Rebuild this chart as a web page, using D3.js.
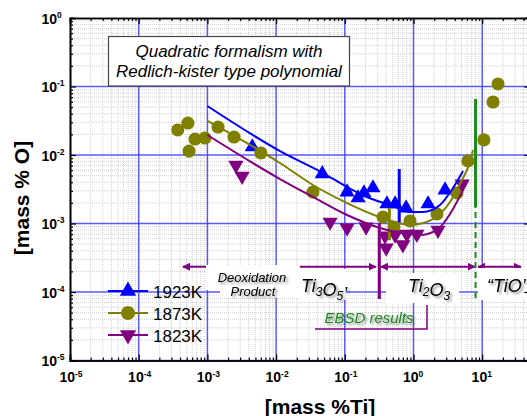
<!DOCTYPE html>
<html lang="en">
<head>
<meta charset="UTF-8">
<title>Ti deoxidation equilibrium</title>
<style>
  body { margin: 0; background: #fff; }
  svg text { font-family: Arial, "Liberation Sans", sans-serif; }
</style>
</head>
<body>
<svg id="chart" width="527" height="416"></svg>
<script src="https://cdn.jsdelivr.net/npm/d3@7"></script>
<script>
// decades shown on the axes (exponents)
const xDecades = [-5, -4, -3, -2, -1, 0, 1];
const yDecades = [-5, -4, -3, -2, -1, 0];

// measured points: [mass %Ti, mass %O]
const pts1923 = [
  [4.5e-3, 0.0131], [0.047, 5.3e-3], [0.108, 2.88e-3], [0.156, 2.36e-3],
  [0.19, 2.79e-3], [0.257, 3.3e-3], [0.41, 1.93e-3], [0.54, 1.93e-3],
  [0.78, 1.68e-3], [1.63, 1.93e-3], [2.88, 3.08e-3]
];
const pts1873 = [
  [3.7e-4, 0.0232], [5.2e-4, 0.0293], [6.6e-4, 0.0171], [5.4e-4, 0.0114],
  [9.2e-4, 0.0177], [1.43e-3, 0.0256], [2.44e-3, 0.0183], [6.0e-3, 0.0107],
  [0.0344, 2.88e-3], [0.36, 1.24e-3], [0.52, 8.9e-4], [0.89, 1.09e-3],
  [2.2, 1.38e-3], [4.3, 2.79e-3], [6.2, 8.2e-3], [10.6, 0.0166],
  [14.4, 0.0594], [17.0, 0.109]
];
const pts1823 = [
  [2.6e-3, 7.1e-3], [3.2e-3, 4.9e-3], [0.061, 1.05e-3], [0.108, 8.6e-4],
  [0.204, 8.9e-4], [0.385, 6.6e-4], [0.40, 4.4e-4], [0.54, 6.8e-4],
  [0.70, 4.9e-4], [0.80, 7.0e-4], [1.12, 7.0e-4], [2.27, 8.0e-4], [5.1, 3.8e-3]
];

// calculated curves (quadratic formalism)
const fit1923 = [
  [1e-3, 0.0519], [0.0114, 0.0114], [0.0482, 5.46e-3], [0.108, 3.41e-3],
  [0.21, 2.44e-3], [0.455, 1.86e-3], [0.89, 1.47e-3], [1.37, 1.47e-3],
  [2.43, 1.86e-3], [3.76, 3.3e-3], [5.26, 5.84e-3]
];
const fit1873 = [
  [1e-3, 0.0314], [0.0114, 7.64e-3], [0.0344, 3.65e-3], [0.108, 1.99e-3],
  [0.325, 1.24e-3], [0.89, 9.5e-4], [1.92, 1.16e-3], [3.4, 2.06e-3],
  [5.08, 4.31e-3], [6.64, 7.9e-3], [7.35, 0.0118]
];
const fit1823 = [
  [1e-3, 0.0196], [0.0114, 4.46e-3], [0.0344, 2.44e-3], [0.108, 1.33e-3],
  [0.325, 8.6e-4], [0.635, 7.3e-4], [1.24, 6.8e-4], [2.27, 8.3e-4],
  [3.4, 1.38e-3], [5.26, 3.08e-3], [6.2, 4.31e-3]
];

// vertical bars: [mass %Ti, low %O, high %O]
const bar1923 = [0.62, 1.02e-3, 6.25e-3];
const bar1873 = [0.445, 5.7e-4, 1.68e-3];
const bar1823 = [0.318, 7.9e-5, 1.02e-3];

// Ti2O3 / TiO boundary
const tiOBoundary = [8.0, 8.2e-5, 1.74e-3, 0.0657];

// stability region arrows: [from %Ti, to %Ti]
const arrowLevel = 2.34e-4;
const regionArrows = [[1e-3, 4.4e-4], [1e-3, 0.284], [0.333, 7.85], [8.69, 36.7]];

const legendNames = ["1923K", "1873K", "1823K"];

const BLUE = "#0000ff", OLIVE = "#808000", PURPLE = "#800080", GREEN = "#1b8a1b";

const svg = d3.select("#chart");

const x = d3.scaleLog().domain([1e-5, 50]).range([70, 70 + 68.7 * Math.log10(50 / 1e-5)]);
const y = d3.scaleLog().domain([1e-5, 1]).range([360.5, 18]);
const [x0, x1] = x.range();
const [yb, yt] = y.range();

const defs = svg.append("defs");
defs.append("filter").attr("id", "shadow")
  .attr("x", "-20%").attr("y", "-30%").attr("width", "150%").attr("height", "180%")
  .append("feDropShadow")
  .attr("dx", 2).attr("dy", 2).attr("stdDeviation", 1.2)
  .attr("flood-color", "#000").attr("flood-opacity", 0.45);
defs.append("marker").attr("id", "head")
  .attr("viewBox", "0 0 10 10").attr("refX", 9).attr("refY", 5)
  .attr("markerWidth", 4).attr("markerHeight", 4)
  .attr("orient", "auto-start-reverse")
  .append("path").attr("d", "M0,0L10,5L0,10z").attr("fill", PURPLE);

const clip = defs.append("clipPath").attr("id", "plotclip");
clip.append("rect").attr("x", x0).attr("y", yt).attr("width", x1 - x0).attr("height", yb - yt);

// minor tick values
function minors(decades, maxV) {
  const out = [];
  decades.forEach(d => { for (let k = 2; k <= 9; k++) { const v = k * 10 ** d; if (v <= maxV) out.push(v); } });
  return out;
}
const xMinor = minors(xDecades, 50);
const yMinor = minors(yDecades.slice(0, -1), 1);
const xMajor = xDecades.map(d => 10 ** d);
const yMajor = yDecades.map(d => 10 ** d);

// grid
const grid = svg.append("g").attr("clip-path", "url(#plotclip)");
grid.selectAll(".gx").data(xMinor).join("line")
  .attr("x1", d => x(d)).attr("x2", d => x(d)).attr("y1", yt).attr("y2", yb)
  .attr("stroke", "#c4c4c4").attr("stroke-dasharray", "1,1").attr("stroke-width", 0.8);
grid.selectAll(".gy").data(yMinor).join("line")
  .attr("y1", d => y(d)).attr("y2", d => y(d)).attr("x1", x0).attr("x2", x1)
  .attr("stroke", "#c4c4c4").attr("stroke-dasharray", "1,1").attr("stroke-width", 0.8);
grid.selectAll(".Gx").data(xMajor).join("line")
  .attr("x1", d => x(d)).attr("x2", d => x(d)).attr("y1", yt).attr("y2", yb)
  .attr("stroke", "#3c3cff").attr("stroke-width", 1.5).attr("opacity", 0.85);
grid.selectAll(".Gy").data(yMajor).join("line")
  .attr("y1", d => y(d)).attr("y2", d => y(d)).attr("x1", x0).attr("x2", x1)
  .attr("stroke", "#3c3cff").attr("stroke-width", 1.5).attr("opacity", 0.85);

// formalism text box
svg.append("rect").attr("x", 108.5).attr("y", 36.5).attr("width", 241).attr("height", 49.5)
  .attr("fill", "#fff").attr("stroke", "#444").attr("stroke-width", 1.2);
svg.append("text").attr("x", 229).attr("y", 57).attr("text-anchor", "middle")
  .attr("font-size", 17).attr("font-style", "italic").text("Quadratic formalism with");
svg.append("text").attr("x", 229).attr("y", 77).attr("text-anchor", "middle")
  .attr("font-size", 17).attr("font-style", "italic").text("Redlich-kister type polynomial");

// region arrows
svg.append("g").selectAll("line").data(regionArrows).join("line")
  .attr("x1", d => x(d[0])).attr("x2", d => x(d[1]))
  .attr("y1", y(arrowLevel)).attr("y2", y(arrowLevel))
  .attr("stroke", PURPLE).attr("stroke-width", 2)
  .attr("marker-end", "url(#head)")
  .attr("marker-start", (d, i) => i >= 2 ? "url(#head)" : null);

// label backgrounds (hide grid/arrows behind the labels)
const boxes = [[206, 265, 94, 25], [220, 288, 80, 10], [300, 269, 46, 31],
               [386, 273, 73, 30], [478, 268, 60, 32]];
svg.append("g").selectAll("rect").data(boxes).join("rect")
  .attr("x", d => d[0]).attr("y", d => d[1]).attr("width", d => d[2]).attr("height", d => d[3])
  .attr("fill", "#fff");

// boundary lines
svg.append("line").attr("x1", x(tiOBoundary[0])).attr("x2", x(tiOBoundary[0]))
  .attr("y1", y(tiOBoundary[2])).attr("y2", y(tiOBoundary[3]))
  .attr("stroke", GREEN).attr("stroke-width", 3);
svg.append("line").attr("x1", x(tiOBoundary[0])).attr("x2", x(tiOBoundary[0]))
  .attr("y1", y(tiOBoundary[1])).attr("y2", y(tiOBoundary[2]))
  .attr("stroke", GREEN).attr("stroke-width", 2).attr("stroke-dasharray", "6,4");

// labels
const lab = svg.append("g").attr("filter", "url(#shadow)").attr("font-style", "italic");
lab.append("text").attr("x", 252).attr("y", 282).attr("text-anchor", "middle").attr("font-size", 13).text("Deoxidation");
lab.append("text").attr("x", 253).attr("y", 296).attr("text-anchor", "middle").attr("font-size", 13).text("Product");
function formula(xp, parts) {
  const t = lab.append("text").attr("x", xp).attr("y", 292).attr("font-size", 18);
  parts.forEach(p => {
    if (p.sub) t.append("tspan").attr("font-size", 12).attr("dy", 4).text(p.sub)
      .clone(true).text("").attr("dy", -4);
    else t.append("tspan").text(p.t);
  });
}
formula(301, [{t: "Ti"}, {sub: "3"}, {t: "O"}, {sub: "5"}, {t: "\u2019"}]);
formula(408, [{t: "Ti"}, {sub: "2"}, {t: "O"}, {sub: "3"}]);
formula(487, [{t: "\u201cTiO\u2019"}]);

// EBSD results
svg.append("polyline").attr("points", "315,329 427,329 427,305")
  .attr("fill", "none").attr("stroke", PURPLE).attr("stroke-width", 1.5);
svg.append("text").attr("x", 369).attr("y", 323).attr("text-anchor", "middle")
  .attr("font-size", 15).attr("font-style", "italic").attr("fill", GREEN)
  .attr("filter", "url(#shadow)").text("EBSD results");

// series
const series = [
  {pts: pts1923, fit: fit1923, bar: bar1923, color: BLUE, sym: d3.symbolTriangle, size: 100, rot: 0},
  {pts: pts1873, fit: fit1873, bar: bar1873, color: OLIVE, sym: d3.symbolCircle, size: 135, rot: 0},
  {pts: pts1823, fit: fit1823, bar: bar1823, color: PURPLE, sym: d3.symbolTriangle, size: 100, rot: 180}
];

const line = d3.line().x(d => x(d[0])).y(d => y(d[1])).curve(d3.curveMonotoneX);
const plot = svg.append("g").attr("clip-path", "url(#plotclip)");

series.forEach(s => {
  plot.append("g").selectAll("path").data(s.pts).join("path")
    .attr("d", d3.symbol(s.sym, s.size))
    .attr("transform", d => `translate(${x(d[0])},${y(d[1])}) rotate(${s.rot})`)
    .attr("fill", s.color);
});
series.forEach(s => {
  plot.append("path").datum(s.fit).attr("d", line)
    .attr("fill", "none").attr("stroke", s.color).attr("stroke-width", 2);
  plot.append("line").attr("x1", x(s.bar[0])).attr("x2", x(s.bar[0]))
    .attr("y1", y(s.bar[1])).attr("y2", y(s.bar[2]))
    .attr("stroke", s.color).attr("stroke-width", 3);
});

// axes: frame with inward ticks
function addAxis(gen, tr, vals, size) {
  svg.append("g").attr("transform", tr)
    .call(gen.tickValues(vals).tickSize(size).tickFormat(""))
    .call(g => g.selectAll("line").attr("stroke", "#000").attr("stroke-width", 1.2))
    .call(g => g.select(".domain").attr("stroke", "#000").attr("stroke-width", 1.6));
}
[[xMajor, -6], [xMinor, -3]].forEach(([v, s]) => {
  addAxis(d3.axisBottom(x), `translate(0,${yb})`, v, s);
  addAxis(d3.axisTop(x), `translate(0,${yt})`, v, s);
});
[[yMajor, -6], [yMinor, -3]].forEach(([v, s]) => {
  addAxis(d3.axisLeft(y), `translate(${x0},0)`, v, s);
  addAxis(d3.axisRight(y), `translate(${x1},0)`, v, s);
});

// tick labels
const tl = svg.append("g").attr("font-weight", "bold");
xDecades.forEach(d => {
  tl.append("text").attr("x", x(10 ** d) + 5).attr("y", 382).attr("text-anchor", "end")
    .attr("font-size", 14).text("10");
  tl.append("text").attr("x", x(10 ** d) + 5).attr("y", 376.5).attr("font-size", 8.5).text(d);
});
yDecades.forEach(d => {
  tl.append("text").attr("x", 57).attr("y", y(10 ** d) + 5.5).attr("text-anchor", "end")
    .attr("font-size", 14).text("10");
  tl.append("text").attr("x", 57).attr("y", y(10 ** d) - 0.5).attr("font-size", 8.5).text(d);
});

// axis titles
svg.append("text").attr("x", 320).attr("y", 414).attr("text-anchor", "middle")
  .attr("font-size", 21).attr("font-weight", "bold").text("[mass %Ti]");
svg.append("text").attr("transform", "translate(29,198) rotate(-90)").attr("text-anchor", "middle")
  .attr("font-size", 21).attr("font-weight", "bold").text("[mass % O]");

// legend
const leg = svg.append("g");
legendNames.forEach((name, i) => {
  const s = series[i];
  const ly = 291 + i * 22;
  leg.append("line").attr("x1", 108).attr("x2", 148).attr("y1", ly).attr("y2", ly)
    .attr("stroke", s.color).attr("stroke-width", 2);
  leg.append("path").attr("d", d3.symbol(s.sym, s.size * 1.15))
    .attr("transform", `translate(128,${ly}) rotate(${s.rot})`).attr("fill", s.color);
  leg.append("text").attr("x", 153).attr("y", ly + 7).attr("font-size", 17).text(name);
});
</script>
</body>
</html>
